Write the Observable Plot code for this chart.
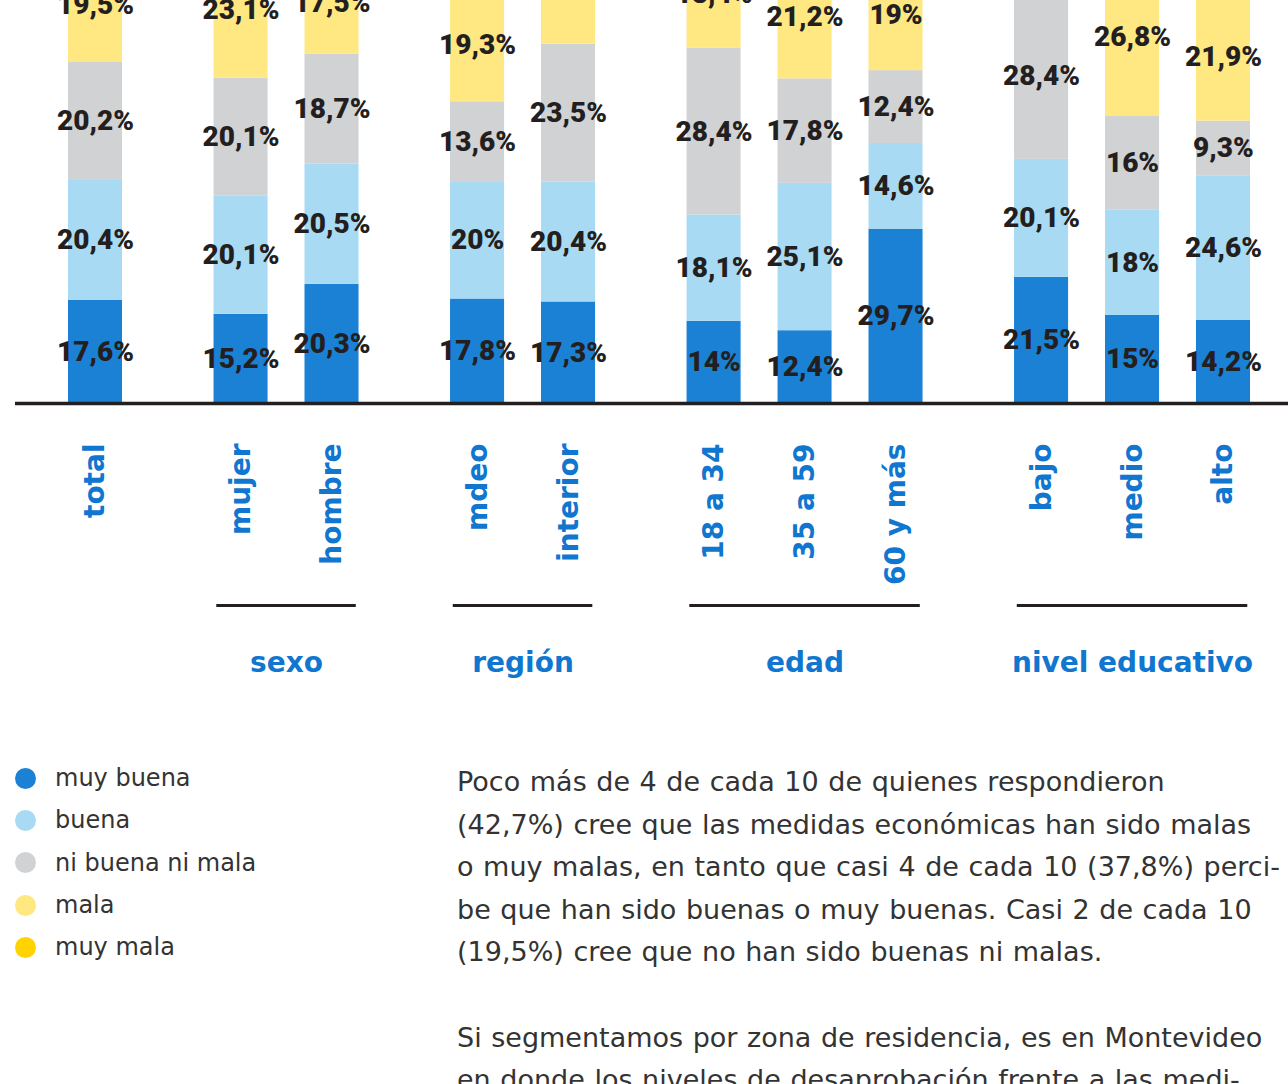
<!DOCTYPE html>
<html>
<head>
<meta charset="utf-8">
<script src="https://cdn.jsdelivr.net/npm/d3@7"></script>
<script src="https://cdn.jsdelivr.net/npm/@observablehq/plot@0.6"></script>
<style>
  html, body { margin: 0; padding: 0; background: #fff; }
  #wrap { position: relative; width: 1288px; height: 1084px; overflow: hidden; }
  #chart svg { display: block; }
  #legend { position: absolute; left: 15px; top: 757px; font-family: "DejaVu Sans", sans-serif; font-size: 24px; color: #333; }
  .item { height: 42.3px; display: flex; align-items: center; white-space: nowrap; }
  .dot { width: 21px; height: 21px; border-radius: 50%; margin-right: 19px; flex: none; }
  #texto { position: absolute; left: 457px; top: 761px; font-family: "DejaVu Sans", sans-serif; font-size: 27px; word-spacing: 1px; line-height: 42.6px; color: #333; white-space: nowrap; }
  #texto p { margin: 0 0 42.6px 0; }
</style>
</head>
<body>
<div id="wrap">
  <div id="chart"></div>
  <div id="legend"></div>
  <div id="texto">
    <p>Poco más de 4 de cada 10 de quienes respondieron<br>(42,7%) cree que las medidas económicas han sido malas<br>o muy malas, en tanto que casi 4 de cada 10 (37,8%) perci-<br>be que han sido buenas o muy buenas. Casi 2 de cada 10<br>(19,5%) cree que no han sido buenas ni malas.</p>
    <p>Si segmentamos por zona de residencia, es en Montevideo<br>en donde los niveles de desaprobación frente a las medi-</p>
  </div>
</div>
<script>
// ---- data ----
const categorias = ["total", "mujer", "hombre", "mdeo", "interior", "18 a 34", "35 a 59", "60 y más", "bajo", "medio", "alto"];
const grupoDeCategoria = ["", "sexo", "sexo", "región", "región", "edad", "edad", "edad", "nivel educativo", "nivel educativo", "nivel educativo"];
const grupos = ["sexo", "región", "edad", "nivel educativo"];
const respuestas = ["muy buena", "buena", "ni buena ni mala", "mala", "muy mala"];
const muyBuena      = [17.6, 15.2, 20.3, 17.8, 17.3, 14,   12.4, 29.7, 21.5, 15,   14.2];
const buena         = [20.4, 20.1, 20.5, 20,   20.4, 18.1, 25.1, 14.6, 20.1, 18,   24.6];
const niBuenaNiMala = [20.2, 20.1, 18.7, 13.6, 23.5, 28.4, 17.8, 12.4, 28.4, 16,   9.3];
const mala          = [19.5, 23.1, 17.5, 19.3, 20.1, 18.4, 21.2, 19,   20,   26.8, 21.9];
const muyMala       = [22.3, 21.5, 23,   29.3, 18.7, 21.1, 23.5, 24.3, 10,   24.2, 30];
const colores = ["#1B81D5", "#A8DBF3", "#D1D2D4", "#FFE782", "#FFD200"];

// ---- layout helpers ----
const series = [muyBuena, buena, niBuenaNiMala, mala, muyMala];
const GAP = 0.6;    // extra space between groups (in bar-step units)
const HALF = 0.297; // half bar width (in bar-step units)
let block = 0;
const pos = categorias.map((c, i) => {
  if (i > 0 && grupoDeCategoria[i] !== grupoDeCategoria[i - 1]) block++;
  return i + block * GAP;
});

const rows = [];
categorias.forEach((c, i) => {
  let acc = 0;
  respuestas.forEach((r, k) => {
    const v = series[k][i];
    rows.push({cat: c, pos: pos[i], resp: r, value: v, y1: acc, y2: acc + v});
    acc += v;
  });
});
// the "muy mala" segment lies above the visible frame: its labels are not drawn
const etiquetas = rows.filter(d => d.resp !== "muy mala");

const grupoRows = grupos.map(g => {
  const idx = grupoDeCategoria.map((d, i) => d === g ? i : -1).filter(i => i >= 0);
  const a = pos[idx[0]], b = pos[idx[idx.length - 1]];
  return {grupo: g, x1: a - HALF + 0.03, x2: b + HALF - 0.03, mid: (a + b) / 2};
});
const catRows = categorias.map((c, i) => ({cat: c, pos: pos[i]}));
const fmt = v => String(v).replace(".", ",") + "%";
const AZUL = "#1076CF";
const NEGRO = "#231F20";

const plot = Plot.plot({
  width: 1288,
  height: 720,
  marginLeft: 15,
  marginRight: 0,
  marginTop: 0,
  marginBottom: 0,
  x: {domain: [0, 12.4], range: [95, 1223], axis: null},
  y: {domain: [0, 100], range: [403, -184], axis: null},
  color: {domain: respuestas, range: colores},
  style: {background: "#fff"},
  marks: [
    Plot.rect(rows, {x1: d => d.pos - HALF, x2: d => d.pos + HALF, y1: "y1", y2: "y2", fill: "resp"}),
    Plot.text(etiquetas, {
      x: "pos", y: d => (d.y1 + d.y2) / 2, text: d => fmt(d.value),
      fontSize: 28, fontWeight: 900, fontFamily: "Roboto, sans-serif", fill: NEGRO
    }),
    Plot.ruleY([0], {stroke: NEGRO, strokeWidth: 3.5}),
    Plot.text(catRows, {
      x: "pos", y: () => 0, dy: 40, text: "cat", rotate: -90,
      textAnchor: "end", lineAnchor: "middle",
      fontSize: 28, fontWeight: "bold", fontFamily: "DejaVu Sans, sans-serif", fill: AZUL
    }),
    Plot.ruleY(grupoRows, {x1: "x1", x2: "x2", y: () => 0, dy: 202, stroke: NEGRO, strokeWidth: 3}),
    Plot.text(grupoRows, {
      x: "mid", y: () => 0, dy: 260, text: "grupo",
      fontSize: 28, fontWeight: "bold", fontFamily: "DejaVu Sans, sans-serif", fill: AZUL
    })
  ]
});
document.getElementById("chart").appendChild(plot);

// ---- legend ----
const legend = document.getElementById("legend");
respuestas.forEach((r, k) => {
  const it = document.createElement("div");
  it.className = "item";
  const dot = document.createElement("span");
  dot.className = "dot";
  dot.style.background = colores[k];
  const lab = document.createElement("span");
  lab.textContent = r;
  it.appendChild(dot);
  it.appendChild(lab);
  legend.appendChild(it);
});
</script>
</body>
</html>
